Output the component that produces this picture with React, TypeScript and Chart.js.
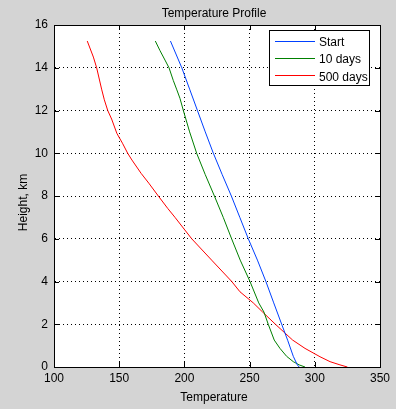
import React, { useEffect, useRef } from "react";
import { Chart, registerables } from "chart.js";

Chart.register(...registerables);

const chartTitle = "Temperature Profile";
const xTitle = "Temperature";
const yTitle = "Height, km";

const seriesLabels = ["Start", "10 days", "500 days"];
const seriesColors = ["#0040ff", "#008000", "#ff0000"];

const startHeight = [0, 0.1, 0.5, 1.25, 2, 3, 4, 5, 6, 7, 8, 9, 10, 11, 12, 13, 14, 15.25];
const startTemp = [288, 286.6, 283.5, 279.2, 274.6, 268.5, 262.5, 256, 249, 242.5, 236, 229, 222.2, 216, 210, 204, 198, 189.3];

const tenDaysHeight = [0, 0.1, 0.25, 0.5, 0.87, 1.26, 2, 2.57, 3, 4, 5, 6, 7, 8, 9, 10, 11, 12, 12.57, 13, 13.4, 14, 14.36, 14.8, 15.25];
const tenDaysTemp = [292.5, 288, 283.5, 278.4, 273.3, 268.9, 264.3, 261, 257, 250.3, 242.8, 236.2, 229.8, 223, 216, 209.4, 204, 199.2, 196.6, 194, 191.5, 188.2, 185.1, 181.3, 177.7];

const fiveHundredHeight = [0, 0.1, 0.25, 0.48, 0.87, 1.26, 2, 2.57, 3, 3.52, 4, 5, 6, 7, 7.42, 8, 8.6, 9.06, 9.68, 10, 10.47, 10.93, 11.6, 12, 12.5, 13, 14, 14.5, 15.25];
const fiveHundredTemp = [325, 319.3, 311.7, 304, 292.5, 283, 269.8, 260, 252.8, 242.6, 236.3, 220.9, 205.6, 192.8, 187.2, 180, 172.7, 166.8, 159.8, 156.5, 152.5, 148.2, 144.2, 141.2, 138.6, 136.5, 132.7, 130.2, 125.5];

const xMin = 100;
const xMax = 350;
const xStep = 50;
const yMin = 0;
const yMax = 16;
const yStep = 2;

const FONT = '"Liberation Sans", Arial, Helvetica, sans-serif';

function toPoints(temps: number[], heights: number[]) {
  return temps.map((t, i) => ({ x: t, y: heights[i] }));
}

const matlabPlugin = {
  id: "matlabDecor",
  beforeDraw(chart: any) {
    const { ctx, chartArea } = chart;
    ctx.save();
    ctx.fillStyle = "#ffffff";
    ctx.fillRect(chartArea.left, chartArea.top, chartArea.right - chartArea.left, chartArea.bottom - chartArea.top);
    ctx.restore();
  },
  afterDraw(chart: any) {
    const { ctx, chartArea } = chart;
    const { left, right, top, bottom } = chartArea;
    const xs = chart.scales.x;
    const ys = chart.scales.y;
    ctx.save();
    ctx.strokeStyle = "#000";
    ctx.lineWidth = 1;
    ctx.setLineDash([]);
    ctx.strokeRect(Math.round(left) + 0.5, Math.round(top) + 0.5, Math.round(right - left), Math.round(bottom - top));
    const tl = 5;
    ctx.beginPath();
    xs.ticks.forEach((t: any) => {
      const px = Math.round(xs.getPixelForValue(t.value)) + 0.5;
      ctx.moveTo(px, bottom);
      ctx.lineTo(px, bottom - tl);
      ctx.moveTo(px, top);
      ctx.lineTo(px, top + tl);
    });
    ys.ticks.forEach((t: any) => {
      const py = Math.round(ys.getPixelForValue(t.value)) + 0.5;
      ctx.moveTo(left, py);
      ctx.lineTo(left + tl, py);
      ctx.moveTo(right, py);
      ctx.lineTo(right - tl, py);
    });
    ctx.stroke();

    ctx.fillStyle = "#000";
    ctx.font = `12px ${FONT}`;
    ctx.textAlign = "center";
    ctx.textBaseline = "alphabetic";
    ctx.fillText(chartTitle, 214, 17);
    ctx.fillText(xTitle, 214, 401);
    ctx.save();
    ctx.translate(27, 202.5);
    ctx.rotate(-Math.PI / 2);
    ctx.fillText(yTitle, 0, 0);
    ctx.restore();

    const bx = 269.5, by = 30.5, bw = 100, bh = 55;
    ctx.fillStyle = "#fff";
    ctx.fillRect(bx, by, bw, bh);
    ctx.strokeStyle = "#000";
    ctx.strokeRect(bx, by, bw, bh);
    const lineRows = [41, 58, 75];
    const textBase = [46, 63, 81];
    seriesLabels.forEach((label, i) => {
      ctx.fillStyle = seriesColors[i];
      ctx.fillRect(275, lineRows[i], 40, 1);
      ctx.fillStyle = "#000";
      ctx.textAlign = "left";
      ctx.fillText(label, 319, textBase[i]);
    });
    ctx.restore();
  },
};

export default function App() {
  const canvasRef = useRef<HTMLCanvasElement | null>(null);

  useEffect(() => {
    const canvas = canvasRef.current;
    if (!canvas) return;
    const series = [
      toPoints(startTemp, startHeight),
      toPoints(tenDaysTemp, tenDaysHeight),
      toPoints(fiveHundredTemp, fiveHundredHeight),
    ];
    const chart = new Chart(canvas, {
      type: "scatter",
      data: {
        datasets: series.map((pts, i) => ({
          label: seriesLabels[i],
          data: pts,
          showLine: true,
          borderColor: seriesColors[i],
          backgroundColor: seriesColors[i],
          borderWidth: 1,
          pointRadius: 0,
          pointHoverRadius: 0,
          tension: 0,
          fill: false,
        })),
      },
      options: {
        responsive: false,
        animation: false,
        layout: { padding: { top: 25, right: 16, bottom: 0, left: 0 } },
        plugins: {
          legend: { display: false },
          tooltip: { enabled: false },
          title: { display: false },
        },
        scales: {
          x: {
            type: "linear",
            position: "bottom",
            min: xMin,
            max: xMax,
            ticks: { stepSize: xStep, color: "#000", font: { family: FONT, size: 12 }, padding: 4, maxRotation: 0 },
            grid: { color: "#000", lineWidth: 1, drawTicks: false },
            border: { display: true, color: "#000", width: 1, dash: [1, 3] },
            afterFit: (scale: any) => {
              scale.height = 42;
            },
          },
          y: {
            type: "linear",
            position: "left",
            min: yMin,
            max: yMax,
            ticks: { stepSize: yStep, color: "#000", font: { family: FONT, size: 12 }, padding: 6 },
            grid: { color: "#000", lineWidth: 1, drawTicks: false },
            border: { display: true, color: "#000", width: 1, dash: [1, 3] },
            afterFit: (scale: any) => {
              scale.width = 54;
            },
          },
        },
      },
      plugins: [matlabPlugin],
    });
    return () => chart.destroy();
  }, []);

  return (
    <div style={{ position: "fixed", left: 0, top: 0, width: 396, height: 409, background: "#d4d4d4" }}>
      <canvas ref={canvasRef} width={396} height={409} style={{ display: "block", width: 396, height: 409 }} />
    </div>
  );
}
